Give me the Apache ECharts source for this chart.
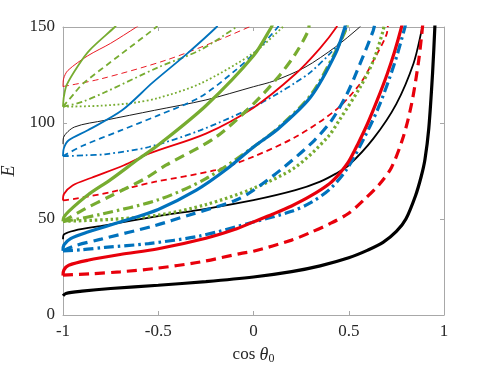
<!DOCTYPE html>
<html>
<head>
<meta charset="utf-8">
<script src="https://cdn.jsdelivr.net/npm/echarts@6/dist/echarts.min.js"></script>
<style>
html, body { margin: 0; padding: 0; background: #fff; }
#chart { width: 491px; height: 368px; }
</style>
</head>
<body>
<div id="chart"></div>
<script>
// axis ticks
const xTicks = [-1, -0.5, 0, 0.5, 1];
const yTicks = [0, 50, 100, 150];

// first branch (thick lines)
const black1 = [[-1,10],[-0.985,11.2],[-0.9,12.4],[-0.75,13.8],[-0.5,15.5],[-0.25,17.4],[0,19.8],[0.2,22.6],[0.35,25.6],[0.5,29.8],[0.6,33.8],[0.68,37.8],[0.75,43.5],[0.8,50],[0.85,62],[0.88,72],[0.9,81],[0.92,97],[0.94,126],[0.952,150],[0.956,160]];
const red1 = [[-1,20.5],[-0.995,23.5],[-0.97,25.9],[-0.87,28.5],[-0.7,31.5],[-0.5,34.5],[-0.25,40],[-0.1,44.5],[0,48.5],[0.1,52.5],[0.2,56.8],[0.3,62],[0.4,68.5],[0.45,73.5],[0.5,80],[0.55,89.5],[0.6,100],[0.65,112],[0.7,125],[0.74,137],[0.777,150],[0.782,153]];
const red1Dash = [[-1,20.8],[-0.85,21.5],[-0.7,22.5],[-0.52,24.2],[-0.28,27.6],[-0.07,32],[0,33.2],[0.2,39],[0.3,43],[0.4,47.5],[0.5,53],[0.58,60],[0.66,68],[0.725,77],[0.786,92.7],[0.83,110],[0.865,131],[0.882,145],[0.89,153]];
const blue1 = [[-1,33.4],[-0.995,36.5],[-0.96,39.8],[-0.87,43.2],[-0.7,48.4],[-0.5,55],[-0.3,65],[-0.14,76],[0,87.5],[0.13,97],[0.3,113.5],[0.43,136],[0.48,150],[0.485,153]];
const blue1Dash = [[-1,33.4],[-0.94,36],[-0.8,39.5],[-0.52,46.5],[-0.34,52],[-0.1,59.5],[0,65],[0.16,77],[0.32,91],[0.41,101.4],[0.49,115],[0.56,131],[0.628,148],[0.64,153]];
const blue1DashDot = [[-1,33.4],[-0.9,34],[-0.78,35.2],[-0.55,37.2],[-0.28,41.2],[0,48.4],[0.2,54],[0.3,58.5],[0.4,65.5],[0.49,76],[0.58,92],[0.66,109],[0.74,131],[0.795,150],[0.8,153]];
const green1 = [[-1,48.8],[-0.995,51],[-0.97,54],[-0.87,62.5],[-0.75,70.5],[-0.6,81.5],[-0.5,88.5],[-0.25,109],[0,135],[0.094,150],[0.1,151.5]];
const green1Dash = [[-1,48.8],[-0.89,55],[-0.75,62],[-0.57,71],[-0.46,78],[-0.2,92.5],[0,110],[0.13,124],[0.22,136],[0.287,148],[0.292,152]];
const green1DashDot = [[-1,48.8],[-0.95,49.5],[-0.8,52.5],[-0.5,60],[-0.25,71],[0,87.5],[0.13,97.5],[0.3,114.5],[0.43,137],[0.49,150],[0.495,153]];
const green1Dot = [[-1,48.8],[-0.75,49.8],[-0.5,52],[-0.25,57.5],[0,66],[0.22,77],[0.39,92.7],[0.45,101.4],[0.56,118.7],[0.63,132.6],[0.68,148],[0.69,153]];

// second branch (medium lines)
const black2 = [[-1,39.5],[-0.995,42],[-0.94,44],[-0.78,46.7],[-0.5,51.5],[-0.25,55.3],[0,59.8],[0.22,65],[0.35,69.5],[0.43,73.5],[0.5,78],[0.63,92],[0.75,110],[0.84,131],[0.882,148],[0.888,152]];
const red2 = [[-1,59.7],[-0.995,63],[-0.95,67.5],[-0.85,71.5],[-0.68,78],[-0.55,84],[-0.25,94.5],[0,108],[0.22,125.5],[0.35,139],[0.436,150],[0.44,152]];
const red2Dash = [[-1,59.7],[-0.94,60.5],[-0.75,64],[-0.52,69.3],[-0.2,75.5],[0,82.5],[0.22,92.7],[0.43,106.6],[0.56,120.5],[0.63,132.6],[0.698,146],[0.706,152]];
const blue2 = [[-1,82.7],[-0.995,87],[-0.97,91],[-0.87,96.2],[-0.69,106.6],[-0.53,121],[-0.35,136],[-0.194,150],[-0.185,152]];
const blue2Dash = [[-1,82.7],[-0.9,88],[-0.7,96],[-0.5,104],[-0.28,113.5],[-0.1,127],[0,136],[0.128,150],[0.132,152]];
const blue2DashDot = [[-1,82.7],[-0.88,83.2],[-0.78,83.7],[-0.55,87.5],[-0.28,96.2],[0,108.3],[0.13,115.5],[0.22,121],[0.3,126.5],[0.4,136],[0.46,143],[0.49,150],[0.495,152]];
const green2 = [[-1,108.5],[-0.995,114],[-0.98,120],[-0.92,130],[-0.86,138],[-0.728,150],[-0.72,151]];
const green2Dash = [[-1,108.5],[-0.94,115.5],[-0.895,120.5],[-0.7,135.5],[-0.51,150],[-0.505,151]];
const green2DashDot = [[-1,108.5],[-0.9,111],[-0.78,116],[-0.5,129],[-0.28,138],[-0.09,150],[-0.085,151]];
const green2Dot = [[-1,108.5],[-0.8,109],[-0.63,110.5],[-0.5,113],[-0.28,120.5],[0,136.5],[0.154,150],[0.16,151]];

// third branch (thin lines)
const black3 = [[-1,89],[-0.997,92.5],[-0.94,97.9],[-0.78,101.4],[-0.52,106.6],[-0.25,112],[0,118.9],[0.11,122],[0.27,129],[0.43,139.6],[0.558,150],[0.57,151.5]];
const red3 = [[-1,118.9],[-0.997,123],[-0.974,127.4],[-0.87,135],[-0.75,141.5],[-0.614,150],[-0.6,151]];
const red3Dash = [[-1,119],[-0.8,123],[-0.46,132.7],[-0.2,142.5],[0,151],[0.01,151.5]];

const color = {
    black: '#000000',
    red: '#e8000b',
    blue: '#0072bd',
    green: '#77ac30',
    axis: '#a8a8a8',
    text: '#262626',
}
const width = { thick: 3.2, medium: 1.8, thin: 0.9 };
const dash = {
    thick: { solid: 'solid', dashed: [10, 6], dashdot: [10, 4, 2.5, 4], dotted: [2.5, 2.8] },
    medium: { solid: 'solid', dashed: [6, 4], dashdot: [6, 3, 1.8, 3], dotted: [1.8, 2.4] },
    thin: { solid: 'solid', dashed: [6, 4], dashdot: [6, 3, 1, 3], dotted: [1, 2] },
}
const line = function (data, c, w, style) {
    return {
        type: 'line',
        data: data,
        showSymbol: false,
        smooth: 0.3,
        clip: true,
        silent: true,
        lineStyle: {
            color: color[c],
            width: width[w],
            type: dash[w][style],
        },
    }
}
const series = [
    line(red3, 'red', 'thin', 'solid'),
    line(red3Dash, 'red', 'thin', 'dashed'),
    line(black3, 'black', 'thin', 'solid'),
    line(green2, 'green', 'medium', 'solid'),
    line(green2Dash, 'green', 'medium', 'dashed'),
    line(green2DashDot, 'green', 'medium', 'dashdot'),
    line(green2Dot, 'green', 'medium', 'dotted'),
    line(blue2, 'blue', 'medium', 'solid'),
    line(blue2Dash, 'blue', 'medium', 'dashed'),
    line(blue2DashDot, 'blue', 'medium', 'dashdot'),
    line(red2, 'red', 'medium', 'solid'),
    line(red2Dash, 'red', 'medium', 'dashed'),
    line(black2, 'black', 'medium', 'solid'),
    line(green1, 'green', 'thick', 'solid'),
    line(green1Dash, 'green', 'thick', 'dashed'),
    line(green1DashDot, 'green', 'thick', 'dashdot'),
    line(green1Dot, 'green', 'thick', 'dotted'),
    line(blue1, 'blue', 'thick', 'solid'),
    line(blue1Dash, 'blue', 'thick', 'dashed'),
    line(blue1DashDot, 'blue', 'thick', 'dashdot'),
    line(red1, 'red', 'thick', 'solid'),
    line(red1Dash, 'red', 'thick', 'dashed'),
    line(black1, 'black', 'thick', 'solid'),
];

const font = 'Liberation Serif';
const tickLabel = {
    color: color.text,
    fontFamily: font,
    fontSize: 17,
}
const frameX = function (pos, show) {
    return {
        type: 'value',
        position: pos,
        min: xTicks[0],
        max: xTicks[xTicks.length - 1],
        interval: 0.5,
        splitLine: { show: false },
        axisLine: { show: true, onZero: false, lineStyle: { color: color.axis, width: 1 } },
        axisTick: { show: true, inside: true, length: 4, lineStyle: { color: color.axis } },
        axisLabel: Object.assign({ show: show, margin: 8, formatter: (v) => String(v) }, tickLabel),
    }
}
const frameY = function (pos, show) {
    return {
        type: 'value',
        position: pos,
        min: yTicks[0],
        max: yTicks[yTicks.length - 1],
        interval: 50,
        splitLine: { show: false },
        axisLine: { show: true, onZero: false, lineStyle: { color: color.axis, width: 1 } },
        axisTick: { show: true, inside: true, length: 4, lineStyle: { color: color.axis } },
        axisLabel: Object.assign({ show: show, margin: 8 }, tickLabel),
    }
}

const chart = echarts.init(document.getElementById('chart'), null, { renderer: 'canvas' });
const xMain = frameX('bottom', true);
xMain.name = '{a|cos }{b|θ}{c|0}';
xMain.nameLocation = 'middle';
xMain.nameGap = 30;
xMain.nameTextStyle = {
    color: color.text,
    rich: {
        a: { fontFamily: font, fontSize: 17, color: color.text },
        b: { fontFamily: font, fontSize: 18, fontStyle: 'italic', color: color.text },
        c: { fontFamily: font, fontSize: 12, color: color.text, padding: [8, 0, 0, 0] },
    }
};
const yMain = frameY('left', true);
yMain.name = 'E';
yMain.nameLocation = 'middle';
yMain.nameGap = 43;
yMain.nameRotate = 90;
yMain.nameTextStyle = { fontFamily: font, fontSize: 18, fontStyle: 'italic', color: color.text };

chart.setOption({
    animation: false,
    grid: { left: 63, right: 47, top: 27, bottom: 53, containLabel: false, outerBoundsMode: 'none' },
    xAxis: [xMain, frameX('top', false)],
    yAxis: [yMain, frameY('right', false)],
    series: series,
});
</script>
</body>
</html>
